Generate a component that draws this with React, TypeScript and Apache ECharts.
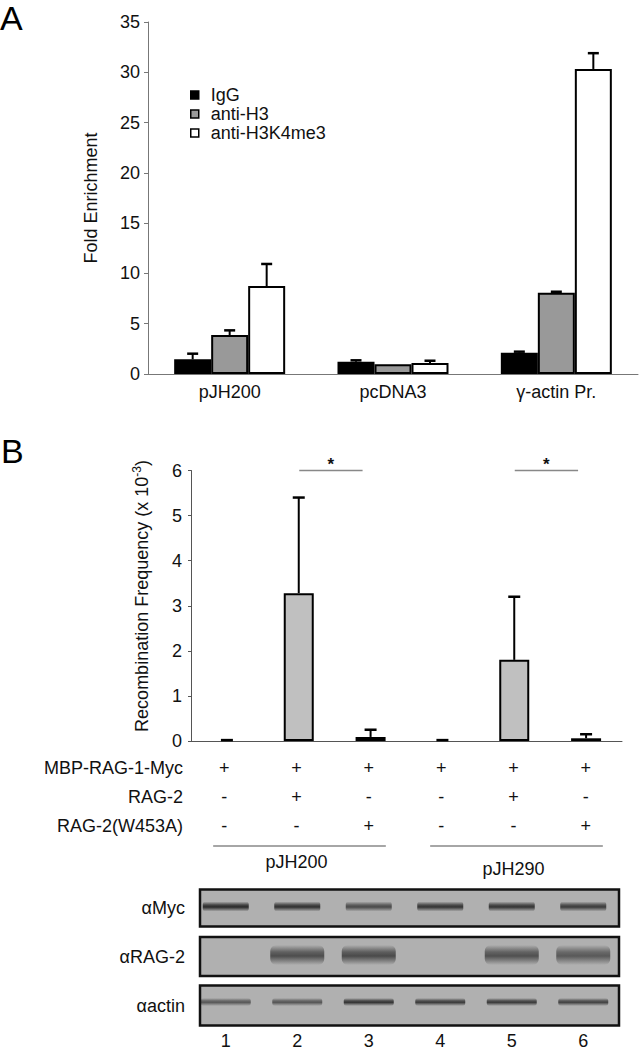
import React, { useEffect, useRef } from "react";
import * as echarts from "echarts";

const FONT = "'Liberation Sans', Arial, Helvetica, sans-serif";

// ---------- Panel A data ----------
const aCategories = ["pJH200", "pcDNA3", "γ-actin Pr."];
const aSeriesNames = ["IgG", "anti-H3", "anti-H3K4me3"];
const aIgG = [1.46, 1.22, 2.12];
const aIgGErrTop = [2.02, 1.36, 2.22];
const aH3 = [3.88, 0.96, 8.08];
const aH3ErrTop = [4.34, 0.96, 8.18];
const aH3K4me3 = [8.75, 1.09, 30.33];
const aH3K4me3ErrTop = [10.94, 1.32, 31.9];
const aYMin = 0;
const aYMax = 35;
const aYInterval = 5;

// ---------- Panel B data ----------
const bLanes = ["1", "2", "3", "4", "5", "6"];
const bValues = [0, 3.28, 0.09, 0, 1.8, 0.06];
const bErrTop = [0.02, 5.4, 0.25, 0.02, 3.2, 0.15];
const bYMin = 0;
const bYMax = 6;
const bYInterval = 1;
const bSignificance = [
  [1, 2],
  [4, 5],
];

// ---------- Table ----------
const tableRowLabels = ["MBP-RAG-1-Myc", "RAG-2", "RAG-2(W453A)"];
const mbpRag1Myc = ["+", "+", "+", "+", "+", "+"];
const rag2 = ["-", "+", "-", "-", "+", "-"];
const rag2W453A = ["-", "-", "+", "-", "-", "+"];
const plasmidGroupNames = ["pJH200", "pJH290"];
const plasmidGroupLanes = [
  [0, 2],
  [3, 5],
];

// ---------- Blots ----------
const blotLabels = ["αMyc", "αRAG-2", "αactin"];
const blotMyc = [0.92, 0.88, 0.7, 0.85, 0.85, 0.8];
const blotRag2 = [0, 0.68, 0.7, 0, 0.66, 0.6];
const blotActin = [0.6, 0.62, 0.85, 0.8, 0.8, 0.75];
const laneNumbers = ["1", "2", "3", "4", "5", "6"];

const A_BAR_W = 37;
const B_BAR_W = 30;

export default function App() {
  const ref = useRef<HTMLDivElement>(null);

  useEffect(() => {
    if (!ref.current) return;
    const chart = echarts.init(ref.current, undefined, { renderer: "svg" });

    const tableRows = [mbpRag1Myc, rag2, rag2W453A];
    const tableData: any[] = [];
    tableRows.forEach((row, r) => row.forEach((s, i) => tableData.push([i, r, s === "+" ? 1 : 0])));

    const blotRows = [blotMyc, blotRag2, blotActin];
    const bandData: any[] = [];
    blotRows.forEach((row, r) => row.forEach((v, i) => bandData.push([i, r, v])));
    const frameStyle = [
      { h: 37, dy: 0.5 },
      { h: 39, dy: 0 },
      { h: 40, dy: 0 },
    ];
    const bandStyle = [
      { w: 46, h: 10, dy: -1, r: 3 },
      { w: 54, h: 20, dy: -1.5, r: 6 },
      { w: 50, h: 8, dy: -3.5, r: 3 },
    ];

    const errSeries = (gi: number, vals: number[], tops: number[], offset: number, cap: number) => ({
      type: "custom",
      xAxisIndex: gi,
      yAxisIndex: gi,
      z: 5,
      silent: true,
      encode: { x: 0, y: 1 },
      data: vals.map((v, i) => [i, v, tops[i]]),
      renderItem: (params: any, api: any) => {
        const i = api.value(0);
        const v = api.value(1);
        const u = api.value(2);
        if (!(u > v)) return { type: "group", children: [] };
        const base = api.coord([i, v]);
        const top = api.coord([i, u]);
        const x = base[0] + offset;
        return {
          type: "group",
          children: [
            { type: "line", shape: { x1: x, y1: base[1], x2: x, y2: top[1] }, style: { stroke: "#000", lineWidth: 2 } },
            { type: "line", shape: { x1: x - cap / 2, y1: top[1], x2: x + cap / 2, y2: top[1] }, style: { stroke: "#000", lineWidth: 2.5 } },
          ],
        };
      },
    });

    const aColors = ["#000000", "#999999", "#ffffff"];
    const aVals = [aIgG, aH3, aH3K4me3];
    const aTops = [aIgGErrTop, aH3ErrTop, aH3K4me3ErrTop];

    const axisLabel = { fontFamily: FONT, fontSize: 18, color: "#111" };

    const option: any = {
      animation: false,
      textStyle: { fontFamily: FONT },
      grid: [
        { left: 148, top: 22, width: 490, height: 352 },
        { left: 191, top: 470.5, width: 431, height: 270.5 },
        { left: 188, top: 753.5, width: 434, height: 87 },
        { left: 190, top: 883, width: 429, height: 149 },
      ],
      legend: {
        data: aSeriesNames,
        orient: "vertical",
        left: 185,
        top: 80.5,
        itemWidth: 8,
        itemHeight: 8,
        itemGap: 0,
        icon: "rect",
        selectedMode: false,
        itemStyle: { borderColor: "#000", borderWidth: 1.5 },
        textStyle: { fontFamily: FONT, fontSize: 18, color: "#111", lineHeight: 19, padding: [0, 0, 0, 7] },
      },
      xAxis: [
        {
          type: "category",
          gridIndex: 0,
          data: aCategories,
          axisTick: { show: false },
          axisLine: { lineStyle: { color: "#777", width: 1 } },
          axisLabel: { ...axisLabel, margin: 9 },
        },
        {
          type: "category",
          gridIndex: 1,
          data: bLanes,
          axisTick: { show: false },
          axisLabel: { show: false },
          axisLine: { lineStyle: { color: "#555", width: 1 } },
        },
        { type: "category", gridIndex: 2, data: bLanes, show: false },
        {
          type: "category",
          gridIndex: 3,
          data: laneNumbers,
          axisTick: { show: false },
          axisLine: { show: false },
          axisLabel: { ...axisLabel, margin: 2 },
        },
      ],
      yAxis: [
        {
          type: "value",
          gridIndex: 0,
          min: aYMin,
          max: aYMax,
          interval: aYInterval,
          name: "Fold Enrichment",
          nameLocation: "middle",
          nameGap: 48,
          nameTextStyle: { fontFamily: FONT, fontSize: 18, color: "#111" },
          splitLine: { show: false },
          axisLine: { show: true, lineStyle: { color: "#777", width: 1 } },
          axisTick: { show: true, length: 4, lineStyle: { color: "#777" } },
          axisLabel: { ...axisLabel, margin: 8 },
        },
        {
          type: "value",
          gridIndex: 1,
          min: bYMin,
          max: bYMax,
          interval: bYInterval,
          splitLine: { show: false },
          axisLine: { show: true, lineStyle: { color: "#555", width: 1 } },
          axisTick: { show: true, length: 3, lineStyle: { color: "#555" } },
          axisLabel: { ...axisLabel, margin: 9 },
        },
        {
          type: "category",
          gridIndex: 2,
          data: tableRowLabels,
          inverse: true,
          axisLine: { show: false },
          axisTick: { show: false },
          axisLabel: { ...axisLabel, margin: 5 },
        },
        {
          type: "category",
          gridIndex: 3,
          data: blotLabels,
          inverse: true,
          axisLine: { show: false },
          axisTick: { show: false },
          axisLabel: { ...axisLabel, margin: 5 },
        },
      ],
      series: [
        ...aSeriesNames.map((name, k) => ({
          name,
          type: "bar",
          xAxisIndex: 0,
          yAxisIndex: 0,
          data: aVals[k],
          barWidth: A_BAR_W,
          barGap: "0%",
          itemStyle: { color: aColors[k], borderColor: "#000", borderWidth: 2 },
        })),
        ...aSeriesNames.map((_, k) => errSeries(0, aVals[k], aTops[k], (k - 1) * A_BAR_W, 11)),
        {
          type: "bar",
          xAxisIndex: 1,
          yAxisIndex: 1,
          barWidth: B_BAR_W,
          data: bValues.map((v) => (v === 0 ? { value: v, itemStyle: { borderWidth: 0 } } : v)),
          itemStyle: { color: "#c0c0c0", borderColor: "#000", borderWidth: 2 },
        },
        errSeries(1, bValues, bErrTop, 0, 12),
        {
          type: "custom",
          xAxisIndex: 1,
          yAxisIndex: 1,
          clip: false,
          silent: true,
          z: 6,
          data: bSignificance.map((p) => [p[0], bYMax]),
          renderItem: (params: any, api: any) => {
            const pair = bSignificance[params.dataIndex];
            const p1 = api.coord([pair[0], bYMax]);
            const p2 = api.coord([pair[1], bYMax]);
            const x1 = p1[0] + 0.5;
            const x2 = p2[0] - 8;
            return {
              type: "group",
              children: [
                { type: "line", shape: { x1, y1: p1[1], x2, y2: p1[1] }, style: { stroke: "#888", lineWidth: 1.5 } },
                {
                  type: "text",
                  x: (x1 + x2) / 2,
                  y: p1[1] - 6,
                  style: { text: "*", fontFamily: FONT, fontSize: 17, fontWeight: "bold", fill: "#111", align: "center", verticalAlign: "middle" },
                },
              ],
            };
          },
        },
        {
          type: "custom",
          xAxisIndex: 2,
          yAxisIndex: 2,
          clip: false,
          silent: true,
          data: tableData,
          renderItem: (params: any, api: any) => {
            const d = tableData[params.dataIndex];
            const c = api.coord([d[0], d[1]]);
            return {
              type: "text",
              x: c[0],
              y: c[1],
              style: { text: d[2] ? "+" : "-", fontFamily: FONT, fontSize: 18, fill: "#111", align: "center", verticalAlign: "middle" },
            };
          },
        },
        {
          type: "custom",
          xAxisIndex: 2,
          yAxisIndex: 2,
          clip: false,
          silent: true,
          data: plasmidGroupLanes.map((g) => [g[0], 2]),
          renderItem: (params: any, api: any) => {
            const g = plasmidGroupLanes[params.dataIndex];
            const a = api.coord([g[0], tableRowLabels.length - 1]);
            const b = api.coord([g[1], tableRowLabels.length - 1]);
            const x1 = a[0] - 11;
            const x2 = b[0] + 17;
            const y = a[1] + 20;
            return {
              type: "group",
              children: [
                { type: "line", shape: { x1, y1: y, x2, y2: y }, style: { stroke: "#888", lineWidth: 1.5 } },
                {
                  type: "text",
                  x: (x1 + x2) / 2 - 3,
                  y: y + 16 + params.dataIndex * 7,
                  style: { text: plasmidGroupNames[params.dataIndex], fontFamily: FONT, fontSize: 18, fill: "#111", align: "center", verticalAlign: "middle" },
                },
              ],
            };
          },
        },
        {
          type: "custom",
          xAxisIndex: 3,
          yAxisIndex: 3,
          clip: false,
          silent: true,
          z: 1,
          data: blotLabels.map((_, r) => [0, r]),
          renderItem: (params: any, api: any) => {
            const r = params.dataIndex;
            const c = api.coord([0, r]);
            const cs = params.coordSys;
            const fs = frameStyle[r];
            return {
              type: "rect",
              shape: { x: cs.x + 10, y: c[1] + fs.dy - fs.h / 2, width: cs.width - 10, height: fs.h },
              style: { fill: "#b0b0b0", stroke: "#111", lineWidth: 2.5 },
            };
          },
        },
        {
          type: "custom",
          xAxisIndex: 3,
          yAxisIndex: 3,
          clip: false,
          silent: true,
          z: 3,
          data: bandData,
          renderItem: (params: any, api: any) => {
            const lane = api.value(0);
            const row = api.value(1);
            const inten = bandData[params.dataIndex][2];
            if (!inten) return { type: "group", children: [] };
            const c = api.coord([lane, row]);
            const st = bandStyle[row];
            return {
              type: "rect",
              shape: { x: c[0] - st.w / 2, y: c[1] + st.dy - st.h / 2, width: st.w, height: st.h, r: st.r },
              style: {
                fill: new echarts.graphic.LinearGradient(0, 0, 0, 1, [
                  { offset: 0, color: "rgba(30,30,30,0)" },
                  { offset: 0.35, color: `rgba(30,30,30,${inten * 0.8})` },
                  { offset: 0.55, color: `rgba(30,30,30,${inten})` },
                  { offset: 1, color: "rgba(30,30,30,0)" },
                ]),
              },
            };
          },
        },
      ],
      graphic: [
        { type: "text", x: 0, y: 18, style: { text: "A", fontFamily: FONT, fontSize: 34, fill: "#000", verticalAlign: "middle" } },
        { type: "text", x: 1, y: 451, style: { text: "B", fontFamily: FONT, fontSize: 34, fill: "#000", verticalAlign: "middle" } },
        {
          type: "text",
          x: 142,
          y: 596,
          rotation: Math.PI / 2,
          style: {
            text: "Recombination Frequency (x 10{sup|-3})",
            fontFamily: FONT,
            fontSize: 18,
            lineHeight: 22,
            fill: "#111",
            align: "center",
            verticalAlign: "middle",
            rich: { sup: { fontFamily: FONT, fontSize: 12, fill: "#111", verticalAlign: "top", lineHeight: 22 } },
          },
        },
      ],
    };

    chart.setOption(option);
    return () => chart.dispose();
  }, []);

  return (
    <div
      ref={ref}
      style={{ position: "absolute", left: 0, top: 0, width: 639, height: 1050, background: "#fff" }}
    />
  );
}
